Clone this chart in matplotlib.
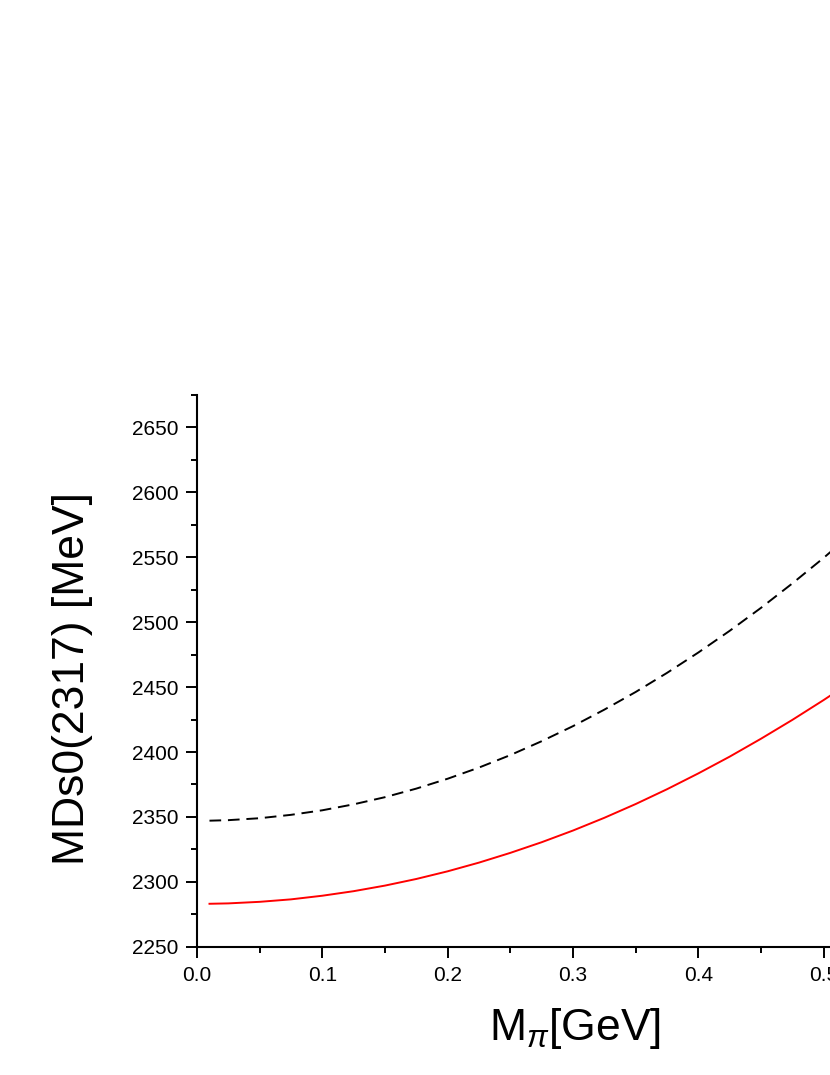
import matplotlib
matplotlib.use("Agg")
import matplotlib.pyplot as plt
from matplotlib.ticker import MultipleLocator, FormatStrFormatter

plt.rcParams['font.family'] = ['Liberation Sans', 'DejaVu Sans']
plt.rcParams['mathtext.fontset'] = 'custom'
plt.rcParams['mathtext.rm'] = 'Liberation Sans'
plt.rcParams['mathtext.it'] = 'Liberation Sans:italic'

# values
m_pi = [0.01, 0.025, 0.05, 0.075, 0.10, 0.125, 0.15, 0.175, 0.20, 0.225, 0.25, 0.275,
        0.30, 0.325, 0.35, 0.375, 0.40, 0.425, 0.45, 0.475, 0.50, 0.525, 0.55]
m_red = [2283.1, 2283.4, 2284.6, 2286.5, 2289.3, 2292.8, 2297.1, 2302.2, 2308.1, 2314.8,
         2322.3, 2330.5, 2339.5, 2349.3, 2359.9, 2371.3, 2383.5, 2396.4, 2410.2, 2424.7,
         2440.0, 2456.0, 2473.0]
m_black = [2347.1, 2347.5, 2349.0, 2351.6, 2355.1, 2359.7, 2365.2, 2371.8, 2379.4, 2388.0,
           2397.6, 2408.3, 2419.9, 2432.6, 2446.2, 2460.9, 2476.6, 2493.3, 2511.0, 2529.8,
           2549.5, 2570.3, 2592.0]

fig = plt.figure(figsize=(8.30, 10.75), dpi=100)
# axes runs past the right edge of the figure, like the cropped original
ax = fig.add_axes([0.2373, 0.1193, 0.906, 0.5133])

ax.plot(m_pi, m_black, color='black', lw=1.4, ls=(0, (6, 3.5)))
ax.plot(m_pi, m_red, color='red', lw=1.4)

ax.set_xlim(0, 0.6)
ax.set_ylim(2250, 2675)

ax.xaxis.set_major_locator(MultipleLocator(0.1))
ax.xaxis.set_minor_locator(MultipleLocator(0.05))
ax.xaxis.set_major_formatter(FormatStrFormatter('%.1f'))
ax.yaxis.set_major_locator(MultipleLocator(50))
ax.yaxis.set_minor_locator(MultipleLocator(25))

for s in ['top', 'right']:
    ax.spines[s].set_visible(False)
for s in ['left', 'bottom']:
    ax.spines[s].set_linewidth(1.5)

ax.tick_params(which='major', direction='out', length=8, width=1.4, labelsize=15, pad=5.5)
ax.tick_params(which='minor', direction='out', length=4.3, width=1.4)

ax.set_xlabel(r'M$_{\pi}$[GeV]', fontsize=32)
ax.set_ylabel('MDs0(2317) [MeV]', fontsize=32)
ax.xaxis.set_label_coords(0.503, -0.108)
ax.yaxis.set_label_coords(-0.138, 0.486)

fig.savefig('out.png', dpi=100)
